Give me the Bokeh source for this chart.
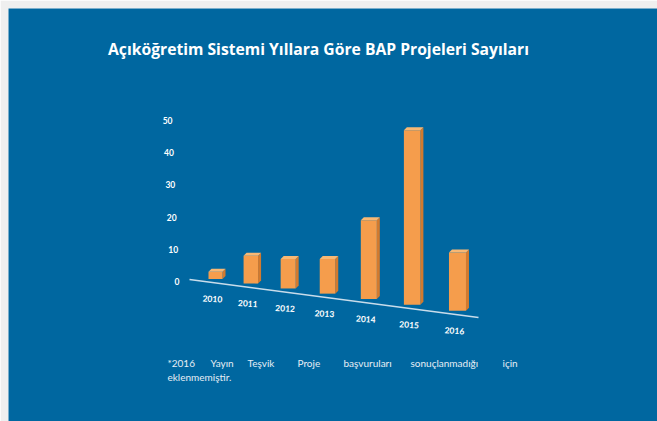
from bokeh.plotting import figure
from bokeh.models import Range1d
from bokeh.core.properties import value
from bokeh.embed import file_html
from bokeh.resources import INLINE

# ---- data ----
years = ["2010", "2011", "2012", "2013", "2014", "2015", "2016"]
counts = [3, 8, 7, 7, 19, 47, 9]
y_ticks = [0, 10, 20, 30, 40, 50]
title_text = "Açıköğretim Sistemi Yıllara Göre BAP Projeleri Sayıları"
note_line1 = ["*2016", "Yayın", "Teşvik", "Proje", "başvuruları", "sonuçlanmadığı", "için"]
note_line2 = "eklenmemiştir."

# ---- layout constants (pixels of the 649x413 blue panel) ----
MARGIN = 8
W, H = 649, 413
SX = 34.33          # px per x unit
SY = 3.22           # px per value unit
X0 = 207.0          # panel px of x = 0
Y0 = 273.0          # panel px (from top) of value 0

x_rng = Range1d(-X0 / SX, (W - X0) / SX)
y_rng = Range1d(-(H - Y0) / SY, Y0 / SY)

def px_x(px):     # panel px -> data x
    return (px - X0) / SX

def px_y(py):     # panel px from top -> data y
    return (Y0 - py) / SY

def floor_py(px):  # slanted floor line, panel px
    return 271.0 + 0.1315 * (px - 181.0)

p = figure(width=W + MARGIN, height=H + MARGIN, x_range=x_rng, y_range=y_rng,
           output_backend="svg", toolbar_location=None,
           min_border_left=MARGIN, min_border_top=MARGIN,
           min_border_right=0, min_border_bottom=0)
p.background_fill_color = "#0067A0"
p.border_fill_color = "#EFEFEF"
p.outline_line_color = None
p.axis.visible = False
p.grid.visible = False

FONT = value("Lato")

# floor line
p.line([px_x(181), px_x(470)], [px_y(floor_py(181)), px_y(floor_py(470))],
       line_color="#C9DDEB", line_width=1.6)

# bars (perspective spacing and width in x)
n = len(years)
xs = [i + i * i / SX for i in range(n)]
ddx = 3.0 / SX
ddy = 3.0 / SY
front_x, front_y, side_x, side_y, top_x, top_y = [], [], [], [], [], []
lab_x, lab_y = [], []
for i, (x, v) in enumerate(zip(xs, counts)):
    hw = (7.0 + 0.25 * i) / SX
    cpx = X0 + x * SX
    b = px_y(floor_py(cpx) - 4)
    l, r = x - hw, x + hw
    front_x.append([l, r, r, l]); front_y.append([b, b, v, v])
    side_x.append([r, r + ddx, r + ddx, r]); side_y.append([b, b + ddy, v + ddy, v])
    top_x.append([l, r, r + ddx, l + ddx]); top_y.append([v, v, v + ddy, v + ddy])
    lab_x.append(px_x(cpx - 3)); lab_y.append(px_y(floor_py(cpx - 3) + 16))

p.patches(side_x, side_y, fill_color="#D27A2E", line_color=None)
p.patches(front_x, front_y, fill_color="#F59D4C", line_color=None)
p.patches(top_x, top_y, fill_color="#F8B874", line_color=None)

# category labels
p.text(lab_x, lab_y, text=years, text_font=FONT, text_font_size="8.5px",
       text_font_style="bold", text_color="white", text_align="center",
       text_baseline="middle", angle=-0.06)

# value tick labels (slightly slanted axis)
tx = [px_x(171 - 0.14 * t) for t in y_ticks]
p.text(tx, y_ticks, text=[str(t) for t in y_ticks], text_font=FONT,
       text_font_size="8.5px", text_font_style="bold", text_color="white",
       text_align="right", text_baseline="middle")

# title
p.text([px_x(310)], [px_y(40)], text=[title_text], text_font=value("Open Sans"),
       text_font_size="15.7px", text_font_style="bold", text_color="white",
       text_align="center", text_baseline="middle")

# justified footnote
word_px = [159, 202, 239, 289, 335, 402, 494]
p.text([px_x(w) for w in word_px], [px_y(354)] * len(note_line1), text=note_line1,
       text_font=FONT, text_font_size="10px", text_color="#E6EEF5",
       text_align="left", text_baseline="middle")
p.text([px_x(159)], [px_y(368)], text=[note_line2], text_font=FONT,
       text_font_size="10px", text_color="#E6EEF5", text_align="left",
       text_baseline="middle")

open("out.html", "w").write(file_html(p, INLINE))
